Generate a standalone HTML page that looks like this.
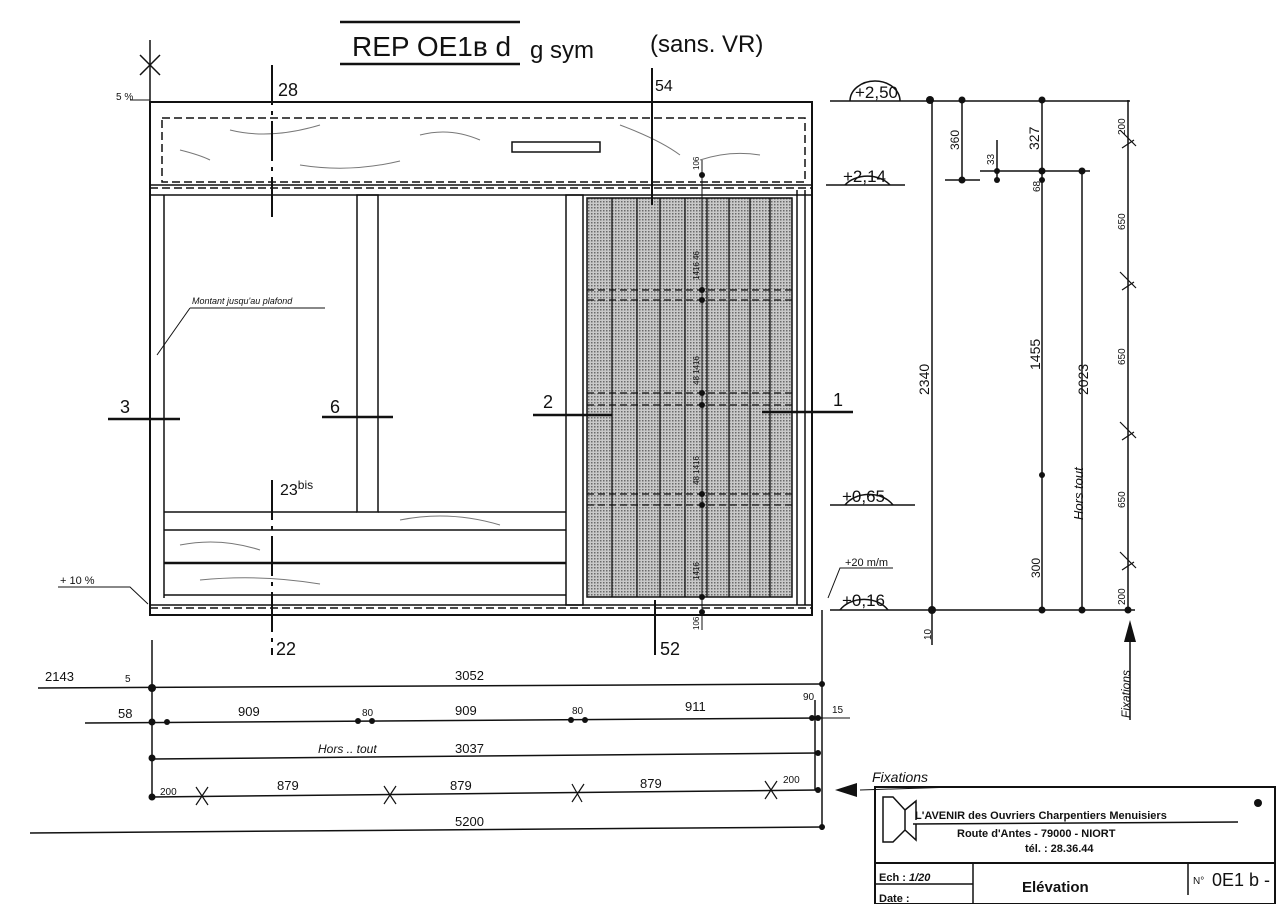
<!DOCTYPE html>
<html><head><meta charset="utf-8"><style>
html,body{margin:0;padding:0;background:#fff;width:1280px;height:904px;overflow:hidden}
svg{display:block}
text{font-family:"Liberation Sans",sans-serif;fill:#111}
</style></head><body>
<svg width="1280" height="904" viewBox="0 0 1280 904" xmlns="http://www.w3.org/2000/svg">
<defs>
<pattern id="dots" width="3" height="3" patternUnits="userSpaceOnUse">
<rect width="3" height="3" fill="#c9c9c9"/><rect width="1.5" height="1.5" fill="#6a6a6a"/>
</pattern>
</defs>
<g stroke="#111" fill="none" stroke-width="1.5">
<line x1="340" y1="22" x2="520" y2="22" stroke-width="2.5"/>
<line x1="340" y1="64" x2="520" y2="64" stroke-width="2.5"/>
<line x1="150" y1="40" x2="150" y2="108"/>
<line x1="140" y1="55" x2="160" y2="75"/><line x1="160" y1="55" x2="140" y2="75"/>
<line x1="130" y1="100" x2="150" y2="100" stroke-width="1"/>
<rect x="150" y="102" width="662" height="513" stroke-width="2"/>
<rect x="162" y="118" width="643" height="64" stroke-dasharray="8,4"/>
<line x1="150" y1="185" x2="812" y2="185"/>
<line x1="150" y1="188" x2="812" y2="188" stroke-dasharray="8,4"/>
<line x1="150" y1="195" x2="812" y2="195"/>
<rect x="512" y="142" width="88" height="10"/>
<g stroke="#777" stroke-width="1">
<path d="M230,130 q40,10 90,-5 M420,135 q30,-8 60,5 M620,125 q40,15 60,30 M700,160 q30,-10 60,-5 M300,165 q50,8 100,-4 M180,150 q20,5 30,10 M180,545 q40,-8 80,5 M400,520 q50,-10 100,5 M200,580 q60,-6 120,4"/>
</g>
<line x1="164" y1="195" x2="164" y2="598"/>
<rect x="357" y="195" width="21" height="317"/>
<rect x="566" y="195" width="17" height="410"/>
<line x1="797" y1="190" x2="797" y2="605"/>
<line x1="805" y1="190" x2="805" y2="605"/>
<line x1="164" y1="512" x2="357" y2="512"/><line x1="378" y1="512" x2="566" y2="512"/>
<line x1="164" y1="530" x2="566" y2="530"/>
<line x1="164" y1="563" x2="566" y2="563" stroke-width="2.5"/>
<line x1="164" y1="595" x2="566" y2="595"/>
<line x1="150" y1="605" x2="812" y2="605"/>
<line x1="150" y1="608" x2="812" y2="608" stroke-dasharray="8,4"/>
<rect x="587" y="198" width="205" height="399" fill="url(#dots)"/>
<g stroke-width="1.3">
<line x1="612" y1="198" x2="612" y2="597"/><line x1="637" y1="198" x2="637" y2="597"/>
<line x1="660" y1="198" x2="660" y2="597"/><line x1="685" y1="198" x2="685" y2="597"/>
<line x1="707" y1="198" x2="707" y2="597"/><line x1="729" y1="198" x2="729" y2="597"/>
<line x1="750" y1="198" x2="750" y2="597"/><line x1="770" y1="198" x2="770" y2="597"/>
</g>
<g stroke-dasharray="7,4" stroke-width="1.3">
<line x1="587" y1="290" x2="795" y2="290"/><line x1="587" y1="300" x2="795" y2="300"/>
<line x1="587" y1="393" x2="795" y2="393"/><line x1="587" y1="405" x2="795" y2="405"/>
<line x1="587" y1="494" x2="795" y2="494"/><line x1="587" y1="505" x2="795" y2="505"/>
</g>
<line x1="702" y1="160" x2="702" y2="630" stroke-width="1"/>
<line x1="272" y1="65" x2="272" y2="220" stroke-width="2" stroke-dasharray="40,6,4,6"/>
<line x1="652" y1="68" x2="652" y2="205" stroke-width="2"/>
<line x1="272" y1="480" x2="272" y2="655" stroke-width="2" stroke-dasharray="40,6,4,6"/>
<line x1="655" y1="600" x2="655" y2="655" stroke-width="2"/>
<line x1="108" y1="419" x2="180" y2="419" stroke-width="2.5"/>
<line x1="322" y1="417" x2="393" y2="417" stroke-width="2.5"/>
<line x1="533" y1="415" x2="612" y2="415" stroke-width="2.5"/>
<line x1="762" y1="412" x2="853" y2="412" stroke-width="2.5"/>
<polyline points="190,308 325,308" stroke-width="1"/>
<line x1="190" y1="308" x2="157" y2="355" stroke-width="1"/>
<polyline points="58,587 130,587 148,604" stroke-width="1"/>
<polyline points="893,568 840,568 828,598" stroke-width="1"/>
<line x1="830" y1="101" x2="1130" y2="101"/>
<path d="M850,101 A25,20 0 0 1 900,101"/>
<line x1="826" y1="185" x2="905" y2="185"/>
<path d="M845,185 A28,22 0 0 1 890,185"/>
<line x1="830" y1="505" x2="915" y2="505"/>
<path d="M845,505 A28,22 0 0 1 893,505"/>
<line x1="830" y1="610" x2="1135" y2="610"/>
<path d="M840,610 A28,22 0 0 1 888,610"/>
<line x1="945" y1="180" x2="980" y2="180"/>
<line x1="980" y1="171" x2="1090" y2="171"/>
<line x1="932" y1="100" x2="932" y2="645"/>
<line x1="962" y1="100" x2="962" y2="180"/>
<line x1="997" y1="140" x2="997" y2="180"/>
<line x1="1042" y1="100" x2="1042" y2="610"/>
<line x1="1082" y1="171" x2="1082" y2="610"/>
<line x1="1128" y1="100" x2="1128" y2="610"/>
<g stroke-width="1.2">
<path d="M1120,130 l16,16 M1122,148 l12,-8"/><path d="M1120,272 l16,16 M1122,290 l12,-8"/>
<path d="M1120,422 l16,16 M1122,440 l12,-8"/><path d="M1120,552 l16,16 M1122,570 l12,-8"/>
</g>
<line x1="1130" y1="720" x2="1130" y2="628"/>
<line x1="152" y1="640" x2="152" y2="800"/>
<line x1="822" y1="610" x2="822" y2="830"/>
<line x1="815" y1="700" x2="815" y2="790"/>
<line x1="38" y1="688" x2="822" y2="684"/>
<line x1="85" y1="723" x2="822" y2="718"/>
<line x1="152" y1="759" x2="818" y2="753"/>
<line x1="152" y1="797" x2="818" y2="790"/>
<line x1="30" y1="833" x2="822" y2="827"/>
<line x1="820" y1="718" x2="850" y2="718" stroke-width="1"/>
<g stroke-width="1.2">
<path d="M196,787 l12,18 M208,787 l-12,18"/><path d="M384,786 l12,18 M396,786 l-12,18"/>
<path d="M572,784 l10,18 M584,784 l-12,18"/><path d="M765,781 l12,18 M777,781 l-12,18"/>
</g>
<line x1="860" y1="790" x2="955" y2="787" stroke-width="1"/>
<rect x="875" y="787" width="400" height="117" stroke-width="2"/>
<line x1="875" y1="863" x2="1275" y2="863" stroke-width="2"/>
<line x1="875" y1="884" x2="973" y2="884"/>
<line x1="973" y1="863" x2="973" y2="904"/>
<line x1="1188" y1="863" x2="1188" y2="895"/>
<path d="M883,797 L883,842 L893,842 L905,830 L905,810 L893,797 Z M905,810 L916,801 L916,820 M905,830 L916,840 L916,824"/>
<line x1="913" y1="824" x2="1238" y2="822"/>
</g>
<g fill="#111">
<polygon points="835,790 857,783 857,797"/>
<polygon points="1130,620 1124,642 1136,642"/>
<circle cx="152" cy="688" r="4"/><circle cx="152" cy="722" r="3.5"/><circle cx="167" cy="722" r="3"/>
<circle cx="358" cy="721" r="3"/><circle cx="372" cy="721" r="3"/><circle cx="571" cy="720" r="3"/><circle cx="585" cy="720" r="3"/>
<circle cx="812" cy="718" r="3"/><circle cx="818" cy="718" r="3"/><circle cx="822" cy="684" r="3"/>
<circle cx="152" cy="758" r="3.5"/><circle cx="818" cy="753" r="3"/><circle cx="152" cy="797" r="3.5"/><circle cx="818" cy="790" r="3"/><circle cx="822" cy="827" r="3"/>
<circle cx="930" cy="100" r="4"/><circle cx="962" cy="100" r="3.5"/><circle cx="1042" cy="100" r="3.5"/>
<circle cx="962" cy="180" r="3.5"/><circle cx="997" cy="171" r="3"/><circle cx="997" cy="180" r="3"/><circle cx="1042" cy="171" r="3.5"/><circle cx="1042" cy="180" r="3"/><circle cx="1082" cy="171" r="3.5"/>
<circle cx="1042" cy="475" r="3"/>
<circle cx="932" cy="610" r="4"/><circle cx="1042" cy="610" r="3.5"/><circle cx="1082" cy="610" r="3.5"/><circle cx="1128" cy="610" r="3.5"/>
<circle cx="702" cy="175" r="3"/><circle cx="702" cy="290" r="3"/><circle cx="702" cy="300" r="3"/><circle cx="702" cy="393" r="3"/><circle cx="702" cy="405" r="3"/><circle cx="702" cy="494" r="3"/><circle cx="702" cy="505" r="3"/><circle cx="702" cy="597" r="3"/><circle cx="702" cy="612" r="3"/>
<circle cx="1258" cy="803" r="4"/>
</g>
<text x="352" y="56" font-size="28">REP  OE1ʙ d</text>
<text x="530" y="58" font-size="24">g sym</text>
<text x="650" y="52" font-size="24">(sans. VR)</text>
<text x="116" y="100" font-size="10">5 %</text>
<text x="278" y="96" font-size="18">28</text>
<text x="655" y="91" font-size="16">54</text>
<text x="280" y="495" font-size="16">23<tspan font-size="12" dy="-6">bis</tspan></text>
<text x="276" y="655" font-size="18">22</text>
<text x="660" y="655" font-size="18">52</text>
<text x="120" y="413" font-size="18">3</text>
<text x="330" y="413" font-size="18">6</text>
<text x="543" y="408" font-size="18">2</text>
<text x="833" y="406" font-size="18">1</text>
<text x="192" y="304" font-size="9" font-style="italic">Montant jusqu'au plafond</text>
<text x="60" y="584" font-size="11">+ 10 %</text>
<text x="845" y="566" font-size="11">+20 m/m</text>
<text x="855" y="98" font-size="17">+2,50</text>
<text x="843" y="182" font-size="17">+2,14</text>
<text x="842" y="502" font-size="17">+0,65</text>
<text x="842" y="606" font-size="17">+0,16</text>
<g font-size="12">
<text transform="translate(959,150) rotate(-90)">360</text>
<text transform="translate(994,165) rotate(-90)" font-size="10">33</text>
<text transform="translate(1039,150) rotate(-90)" font-size="14">327</text>
<text transform="translate(1040,192) rotate(-90)" font-size="10">68</text>
<text transform="translate(929,395) rotate(-90)" font-size="14">2340</text>
<text transform="translate(1040,370) rotate(-90)" font-size="14">1455</text>
<text transform="translate(1040,578) rotate(-90)">300</text>
<text transform="translate(1088,395) rotate(-90)" font-size="14">2023</text>
<text transform="translate(1083,520) rotate(-90)" font-size="13" font-style="italic">Hors    tout</text>
<text transform="translate(1125,135) rotate(-90)" font-size="10">200</text>
<text transform="translate(1125,230) rotate(-90)" font-size="10">650</text>
<text transform="translate(1125,365) rotate(-90)" font-size="10">650</text>
<text transform="translate(1125,508) rotate(-90)" font-size="10">650</text>
<text transform="translate(1125,605) rotate(-90)" font-size="10">200</text>
<text transform="translate(931,640) rotate(-90)" font-size="10">10</text>
<text transform="translate(1130,718) rotate(-90)" font-size="12" font-style="italic">Fixations</text>
<text transform="translate(699,170) rotate(-90)" font-size="8">106</text>
<text transform="translate(699,630) rotate(-90)" font-size="8">106</text>
<text transform="translate(699,280) rotate(-90)" font-size="8">1416  46</text>
<text transform="translate(699,385) rotate(-90)" font-size="8">48  1416</text>
<text transform="translate(699,485) rotate(-90)" font-size="8">48  1416</text>
<text transform="translate(699,580) rotate(-90)" font-size="8">1416</text>
</g>
<g font-size="13">
<text x="45" y="681">2143</text><text x="125" y="682" font-size="10">5</text>
<text x="455" y="680">3052</text>
<text x="118" y="718">58</text><text x="238" y="716">909</text><text x="362" y="716" font-size="10">80</text>
<text x="455" y="715">909</text><text x="572" y="714" font-size="10">80</text><text x="685" y="711">911</text>
<text x="803" y="700" font-size="10">90</text><text x="832" y="713" font-size="10">15</text>
<text x="318" y="753" font-style="italic" font-size="12">Hors .. tout</text><text x="455" y="753">3037</text>
<text x="160" y="795" font-size="10">200</text><text x="277" y="790">879</text><text x="450" y="790">879</text>
<text x="640" y="788">879</text><text x="783" y="783" font-size="10">200</text>
<text x="455" y="826">5200</text>
<text x="872" y="782" font-style="italic" font-size="14">Fixations</text>
</g>
<text x="915" y="819" font-size="11" font-weight="bold">L'AVENIR   des Ouvriers  Charpentiers  Menuisiers</text>
<text x="957" y="837" font-size="11" font-weight="bold">Route  d'Antes  - 79000 -  NIORT</text>
<text x="1025" y="852" font-size="11" font-weight="bold">tél. : 28.36.44</text>
<text x="879" y="881" font-size="11" font-weight="bold">Ech :  <tspan font-style="italic">1/20</tspan></text>
<text x="879" y="902" font-size="11" font-weight="bold">Date :</text>
<text x="1022" y="892" font-size="15" font-weight="bold">Elévation</text>
<text x="1193" y="884" font-size="10">N°</text>
<text x="1212" y="886" font-size="18">0E1 b -</text>
</svg>
</body></html>
